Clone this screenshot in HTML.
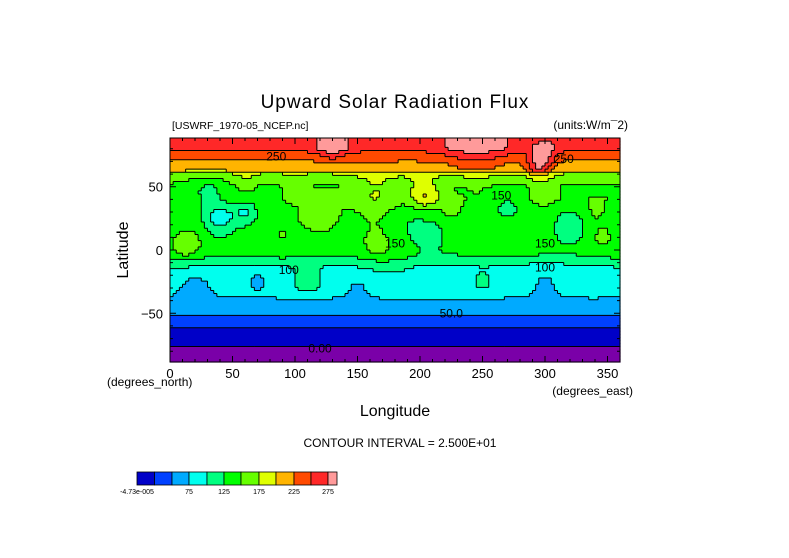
<!DOCTYPE html>
<html><head><meta charset="utf-8"><style>
body{margin:0;background:#fff;}
svg{display:block;font-family:"Liberation Sans",sans-serif;}
</style></head><body>
<svg id="chart" width="789" height="558" viewBox="0 0 789 558">
<rect width="789" height="558" fill="#fff"/>
<text x="395" y="108" font-size="19" text-anchor="middle" fill="#000" letter-spacing="1">Upward Solar Radiation Flux</text>
<text x="172" y="129" font-size="10.5" fill="#000">[USWRF_1970-05_NCEP.nc]</text>
<text x="628" y="129" font-size="12" text-anchor="end" fill="#000">(units:W/m¯2)</text>
<g id="field"></g>
<g id="lines"></g>
<g id="labels"></g>
<rect x="170" y="138" width="450" height="224" fill="none" stroke="#000" stroke-width="1"/>
<g id="axes"></g>
<text x="107" y="386" font-size="12" fill="#000">(degrees_north)</text>
<text x="633" y="395" font-size="12" text-anchor="end" fill="#000">(degrees_east)</text>
<text x="395" y="416" font-size="16" text-anchor="middle" fill="#000">Longitude</text>
<text x="128" y="250" font-size="16" text-anchor="middle" fill="#000" transform="rotate(-90 128 250)">Latitude</text>
<text x="400" y="447" font-size="12" text-anchor="middle" fill="#000">CONTOUR INTERVAL = 2.500E+01</text>
<g id="colorbar"></g>
</svg>
<script>
const profileLats = [90,80,76,72,68,63,60,55,50,40,30,20,10,0,-5,-10,-15,-20,-30,-35,-40,-45,-50,-52,-60,-62,-76,-78,-90];
const profileVals = [265,260,240,228,215,205,170,155,145,148,140,138,135,132,125,105,95,90,86,80,72,66,58,45,38,20,12,-5,-5];
const blobLon = [130,245,300,165,205,120,40,60,225,295,110,250,20,70,300,150,30,200,270,320,90,340,180,10,15,165,270,345,200,100,300,60];
const blobLat = [82,82,76,45,42,28,25,30,33,66,-25,-25,-30,-25,-25,-30,45,20,35,20,10,30,-5,0,5,5,5,10,48,50,45,55];
const blobRad = [12,25,10,20,12,15,12,10,8,10,10,8,15,8,15,10,15,25,12,15,15,10,20,15,12,15,10,10,15,10,12,10];
const blobAmp = [40,35,30,30,45,30,-50,-40,30,60,35,20,-20,-20,-15,-15,-25,-20,-25,-25,15,15,12,15,20,20,15,20,20,15,15,15];
const levelColors = ["#7a00a8","#0000c8","#0040ff","#00aaff","#00ffee","#00ff80","#00ff00","#66ff00","#dfff00","#ffb400","#ff4a00","#ff2828","#ff9a9a"];
const lonTicks = [0,50,100,150,200,250,300,350];
const latTicks = [-50,0,50];
const cbLabels = ["-4.73e-005","75","125","175","225","275"];
const cbLabelIdx = [0,3,5,7,9,11];
const contourLabelText = ["250","250","150","150","150","100","100","50.0","0.00"];
const contourLabelLon = [85,315,265,180,300,95,300,225,120];
const contourLabelLat = [74,72,43,5,5,-16,-14,-50,-78];

const NS="http://www.w3.org/2000/svg";
const X0=170,X1=620,Y0=138,Y1=362;
const xs=lon=>X0+(X1-X0)*lon/360;
const ys=lat=>Y0+(Y1-Y0)*(88.5-lat)/177;
function prof(lat){for(let i=0;i<profileLats.length-1;i++){const a=profileLats[i],b=profileLats[i+1];if(lat<=a&&lat>=b){const t=(a-lat)/(a-b);return profileVals[i]+t*(profileVals[i+1]-profileVals[i]);}}return profileVals[profileVals.length-1];}
function val(lon,lat){let v=prof(lat);for(let k=0;k<blobLon.length;k++){let dl=Math.abs(lon-blobLon[k]);if(dl>180)dl=360-dl;const d2=dl*dl+(lat-blobLat[k])**2;v+=blobAmp[k]*Math.exp(-d2/(blobRad[k]*blobRad[k]));}return v;}
function lvl(v){if(v<0)return 0;return Math.min(12,1+Math.floor(v/25));}
const field=document.getElementById('field'),lines=document.getElementById('lines');
const NX=144,NY=72,dlon=360/NX,dlat=177/NY;
const L=[];
for(let j=0;j<NY;j++){L[j]=[];for(let i=0;i<NX;i++){const lon=(i+0.5)*dlon,lat=88.5-(j+0.5)*dlat;L[j][i]=lvl(val(lon,lat));}}
for(let j=0;j<NY;j++){let i=0;while(i<NX){let k=i;while(k+1<NX&&L[j][k+1]===L[j][i])k++;
const r=document.createElementNS(NS,'rect');const xa=xs(i*dlon),xb=xs((k+1)*dlon),ya=ys(88.5-j*dlat),yb=ys(88.5-(j+1)*dlat);
r.setAttribute('x',xa);r.setAttribute('y',ya);r.setAttribute('width',xb-xa+0.6);r.setAttribute('height',yb-ya+0.6);r.setAttribute('fill',levelColors[L[j][i]]);


field.appendChild(r);i=k+1;}}
let d='';
for(let j=0;j<NY;j++)for(let i=0;i<NX;i++){
if(i+1<NX&&L[j][i]!==L[j][i+1]){const x=xs((i+1)*dlon);d+=`M${x},${ys(88.5-j*dlat)}V${ys(88.5-(j+1)*dlat)}`;}
if(j+1<NY&&L[j][i]!==L[j+1][i]){const y=ys(88.5-(j+1)*dlat);d+=`M${xs(i*dlon)},${y}H${xs((i+1)*dlon)}`;}}
const p=document.createElementNS(NS,'path');p.setAttribute('d',d);p.setAttribute('stroke','#000');p.setAttribute('stroke-width','1');p.setAttribute('fill','none');


lines.appendChild(p);
const labels=document.getElementById('labels');
contourLabelText.forEach((t,i)=>{const e=document.createElementNS(NS,'text');e.setAttribute('x',xs(contourLabelLon[i]));e.setAttribute('y',ys(contourLabelLat[i])+4);e.setAttribute('font-size','12');e.setAttribute('text-anchor','middle');e.textContent=t;


labels.appendChild(e);});
const axes=document.getElementById('axes');
let td='';
for(let lon=0;lon<=360;lon+=10){const x=xs(lon),len=lon%50===0?6:3;td+=`M${x},${Y1}v${-len}M${x},${Y0}v${len}`;}
for(let lat=-80;lat<=80;lat+=10){const y=ys(lat),len=lat%50===0?6:3;td+=`M${X0},${y}h${len}M${X1},${y}h${-len}`;}
const tp=document.createElementNS(NS,'path');tp.setAttribute('d',td);tp.setAttribute('stroke','#000');tp.setAttribute('fill','none');


axes.appendChild(tp);
lonTicks.forEach(v=>{const e=document.createElementNS(NS,'text');e.setAttribute('x',xs(v));e.setAttribute('y',378);e.setAttribute('font-size','13');e.setAttribute('text-anchor','middle');e.textContent=v;


axes.appendChild(e);});
latTicks.forEach(v=>{const e=document.createElementNS(NS,'text');e.setAttribute('x',163);e.setAttribute('y',ys(v)+5);e.setAttribute('font-size','13');e.setAttribute('text-anchor','end');e.textContent=(v<0?'−':'')+Math.abs(v);


axes.appendChild(e);});
const cb=document.getElementById('colorbar');
const cbEdges=[137,154.5,172,189,207,224,241,259,276,294,311,328,337];
for(let i=0;i<12;i++){const r=document.createElementNS(NS,'rect');r.setAttribute('x',cbEdges[i]);r.setAttribute('y',472);r.setAttribute('width',cbEdges[i+1]-cbEdges[i]);r.setAttribute('height',13);r.setAttribute('fill',levelColors[i+1]);r.setAttribute('stroke','#000');r.setAttribute('stroke-width','0.8');


cb.appendChild(r);}
cbLabels.forEach((t,i)=>{const e=document.createElementNS(NS,'text');e.setAttribute('x',cbEdges[cbLabelIdx[i]]);e.setAttribute('y',494);e.setAttribute('font-size','7');e.setAttribute('text-anchor','middle');e.textContent=t;


cb.appendChild(e);});
</script>
</body></html>
